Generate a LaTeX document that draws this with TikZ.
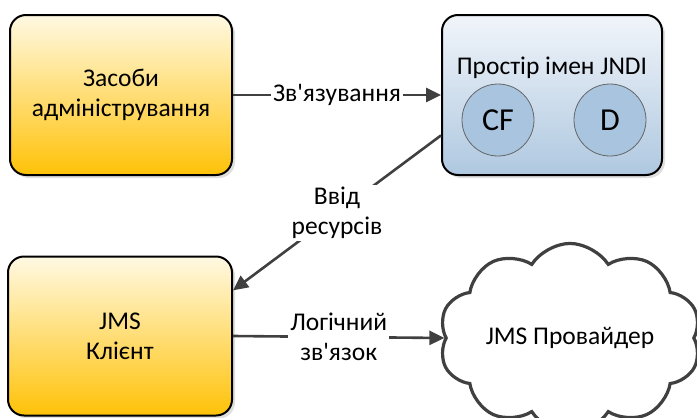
\documentclass[tikz,border=0pt]{standalone}
\usepackage{fontspec}
\setmainfont{Carlito}[Ligatures=TeXOff]
\usetikzlibrary{arrows.meta,shapes.symbols,shadows}

\definecolor{arrowgray}{HTML}{404040}
\definecolor{goldtop}{HTML}{FFF9E3}
\definecolor{goldbot}{HTML}{FFC208}
\definecolor{bluetop}{HTML}{F1F5FA}
\definecolor{bluebot}{HTML}{AFC8E0}
\definecolor{bubble}{HTML}{A9C4DF}

\begin{document}
\begin{tikzpicture}[x=1pt, y=-1pt,
    font=\fontsize{25.5}{30}\selectfont,
    box/.style={draw=black, line width=2pt, rounded corners=16pt, align=center,
        drop shadow={shadow xshift=3pt, shadow yshift=-3pt, opacity=0.25, fill=gray}},
    goldbox/.style={box, top color=goldtop, bottom color=goldbot},
    bluebox/.style={box, top color=bluetop, bottom color=bluebot},
    bubblenode/.style={circle, draw=gray!80!black, line width=0.8pt, fill=bubble, minimum size=72pt,
        inner sep=0pt, font=\fontsize{32}{36}\selectfont},
    link/.style={draw=arrowgray, line width=2.6pt, -{Triangle[length=15pt, width=14pt]}},
    linklabel/.style={fill=white, inner sep=2pt, align=center, text=black}]
    \useasboundingbox (0,0) rectangle (697,418);

    % Admin tools box
    \node[goldbox, minimum width=222pt, minimum height=160pt] (admin) at (121,95) {Засоби\\адміністрування};

    % JNDI namespace box
    \node[bluebox, minimum width=220pt, minimum height=160pt] (jndi) at (552,95) {};
    \node (jndititle) at (552,68) {Простір імен JNDI};
    \node[bubblenode] (cf) at (498,120) {CF};
    \node[bubblenode] (dest) at (610,120) {D};

    % JMS client box
    \node[goldbox, minimum width=224pt, minimum height=159pt] (client) at (120,336) {JMS\\Клієнт};

    % JMS provider cloud
    \node[cloud, cloud puffs=10, cloud puff arc=115, aspect=1.6, draw=arrowgray, line width=3.2pt,
        fill=white, minimum width=252pt, minimum height=156pt] (provider) at (570,338) {JMS Провайдер};

    % Arrows
    \draw[link] (admin.east) -- (jndi.west) node[midway, linklabel] {Зв'язування};
    \draw[link] (jndi.200) -- (client.22) node[midway, linklabel] {Ввід\\ресурсів};
    \draw[link] (client.east) -- (provider.west) node[midway, linklabel] {Логічний\\зв'язок};
\end{tikzpicture}
\end{document}
